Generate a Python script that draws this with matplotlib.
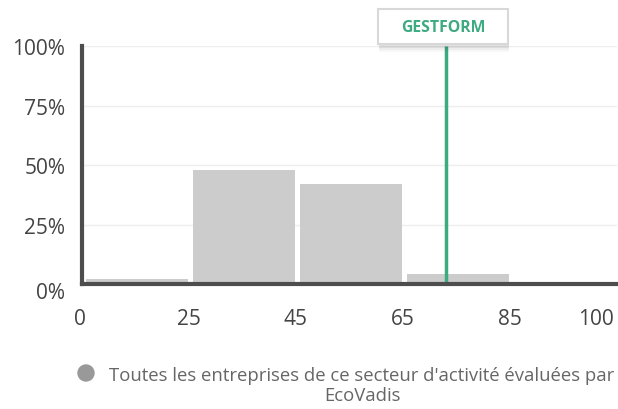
import numpy as np
import matplotlib.pyplot as plt
from matplotlib.patches import Rectangle, Ellipse
from matplotlib.transforms import ScaledTranslation

plt.rcParams['font.family'] = ['Open Sans', 'DejaVu Sans']

# score bins (edges) and share of companies in each bin
bin_edges = [0, 25, 45, 65, 85, 100]
shares = [2, 48, 42, 4, 0]
company = "GESTFORM"
company_score = 73
y_ticks = [0, 25, 50, 75, 100]
legend_label = "Toutes les entreprises de ce secteur d'activité évaluées par\nEcoVadis"

W, H = 618, 410
fig = plt.figure(figsize=(W / 100, H / 100), dpi=100)
ax = fig.add_axes([82 / W, (H - 285) / H, 535 / W, (285 - 47) / H])

pos = np.arange(len(shares))
ax.bar(pos + 0.035, shares, width=0.96, align='edge', color='#cccccc', zorder=2)

ax.set_xlim(0, len(shares))
ax.set_ylim(0, 100)
ax.set_xticks(np.arange(len(bin_edges)))
ax.set_xticklabels([str(e) for e in bin_edges])
ax.set_yticks(y_ticks)
ax.set_yticklabels([f"{v}%" for v in y_ticks])
ax.tick_params(length=0, labelsize=15, colors='#444444')
ax.tick_params(axis='x', pad=17)
ax.tick_params(axis='y', pad=12)
xl = ax.get_xticklabels()
xl[0].set_transform(xl[0].get_transform() + ScaledTranslation(-0.02, 0, fig.dpi_scale_trans))
xl[-1].set_horizontalalignment('right')
xl[-1].set_transform(xl[-1].get_transform() + ScaledTranslation(-0.03, 0, fig.dpi_scale_trans))
yl = ax.get_yticklabels()
yl[0].set_transform(yl[0].get_transform() + ScaledTranslation(0, -0.06, fig.dpi_scale_trans))

ax.grid(axis='y', color='#eeeeee', linewidth=1, zorder=0)
for s in ['top', 'right']:
    ax.spines[s].set_visible(False)
for s in ['left', 'bottom']:
    ax.spines[s].set_color('#4d4d4d')
    ax.spines[s].set_linewidth(3)
    ax.spines[s].set_zorder(4)

# company marker
xc = np.interp(company_score, bin_edges, np.arange(len(bin_edges)))
ax.plot([xc, xc], [0, 100], color='#3daa82', linewidth=2.5, zorder=3,
        clip_on=False, solid_capstyle='butt')

# label box with a soft shadow
for i, a in enumerate([0.05, 0.04, 0.03]):
    fig.patches.append(Rectangle(((378 + 1) / W, (H - 47 - 2 * (i + 1)) / H), 130 / W, 35 / H,
                                 transform=fig.transFigure, facecolor='black',
                                 edgecolor='none', alpha=a))
fig.patches.append(Rectangle((378 / W, (H - 45) / H), 130 / W, 35 / H,
                             transform=fig.transFigure, facecolor='white',
                             edgecolor='#d8d8d8', linewidth=1.5))
fig.text(443 / W, (H - 28) / H, company, ha='center', va='center',
         fontsize=11.3, fontweight='bold', color='#3daa82')

# legend
fig.patches.append(Ellipse((86 / W, (H - 374) / H), 16 / W, 16 / H,
                           transform=fig.transFigure, color='#999999'))
fig.text(362 / W, (H - 386) / H, legend_label, ha='center', va='center',
         fontsize=13.3, color='#666666', linespacing=1.2)

fig.savefig('out.png', dpi=100)
